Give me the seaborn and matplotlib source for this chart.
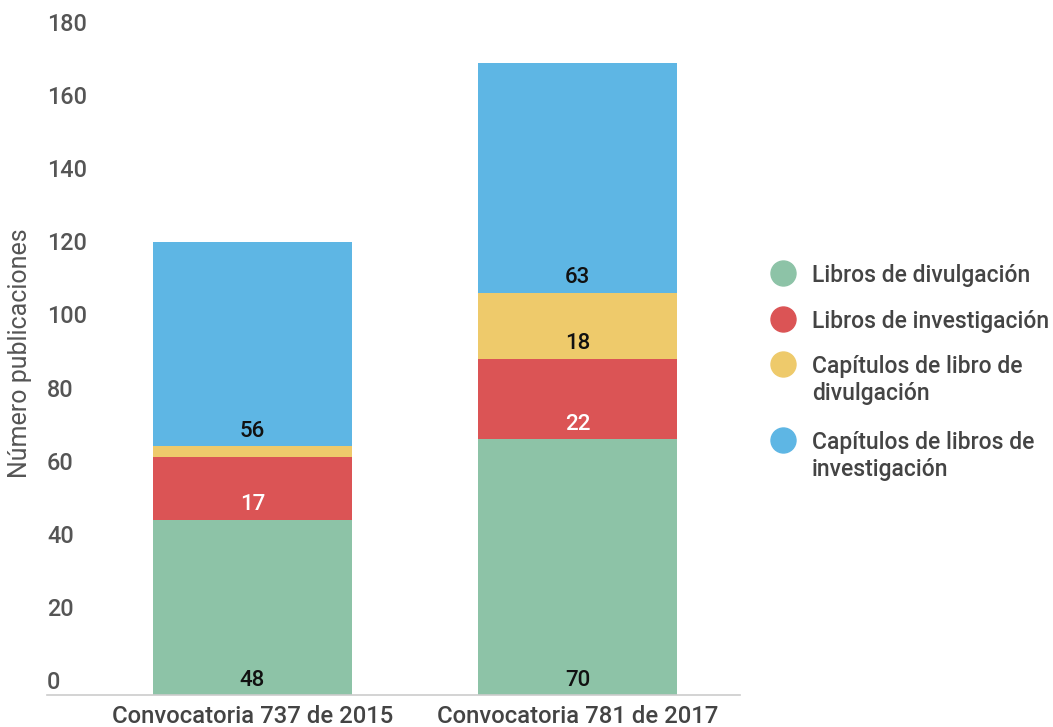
import matplotlib
matplotlib.use("Agg")
import matplotlib.pyplot as plt
import matplotlib.transforms as mtransforms
from matplotlib.lines import Line2D
import numpy as np
import pandas as pd
import seaborn as sns

# Datos
convocatorias = ["Convocatoria 737 de 2015", "Convocatoria 781 de 2017"]
series = ["Libros de divulgación", "Libros de investigación",
          "Capítulos de libro de\ndivulgación", "Capítulos de libros de\ninvestigación"]
libros_divulgacion = [48, 70]
libros_investigacion = [17, 22]
capitulos_divulgacion = [3, 18]
capitulos_investigacion = [56, 63]
colores = ["#8DC3A7", "#DB5455", "#EECA6B", "#5EB6E4"]
color_etiqueta = ["#111111", "#FFFFFF", "#111111", "#111111"]
yticks = [0, 20, 40, 60, 80, 100, 120, 140, 160, 180]

sns.set_style("white")
plt.rcParams['font.family'] = ['Roboto', 'DejaVu Sans']

W, H = 1053, 727
fig = plt.figure(figsize=(W / 100, H / 100), dpi=100)
ax = fig.add_axes([47 / W, 32 / H, 693 / W, 658 / H])

valores = [libros_divulgacion, libros_investigacion, capitulos_divulgacion, capitulos_investigacion]
base = np.zeros(len(convocatorias))
for i, serie in enumerate(series):
    df = pd.DataFrame({'Convocatoria': convocatorias, 'Valor': valores[i]})
    sns.barplot(data=df, x='Convocatoria', y='Valor', color=colores[i], saturation=1,
                width=0.612, bottom=base.copy(), ax=ax, errorbar=None, linewidth=0)
    # Etiquetas en la base de cada segmento
    for j, v in enumerate(valores[i]):
        if v >= 5:
            ax.annotate(str(v), xy=(j, base[j]), xytext=(0, 15), textcoords='offset pixels',
                        ha='center', va='center', fontsize=16, fontweight='medium',
                        color=color_etiqueta[i])
    base = base + np.array(valores[i])

ax.set_xlim(-0.632, 1.5)
ax.set_ylim(0, 180)
ax.set_yticks(yticks)
ax.set_yticklabels([str(t) for t in yticks])
ax.tick_params(axis='y', length=0, pad=0, labelsize=16.8, labelcolor='#555555')
ax.tick_params(axis='x', length=0, pad=7, labelsize=17.2, labelcolor='#444444')
desplazamiento = mtransforms.ScaledTranslation(0, 15 / 100, fig.dpi_scale_trans)
for lab in ax.get_yticklabels():
    lab.set_ha('left')
    lab.set_fontweight('medium')
    lab.set_transform(lab.get_transform() + desplazamiento)
for lab in ax.get_xticklabels():
    lab.set_fontweight('medium')

ax.set_xlabel('')
ax.set_ylabel('Número publicaciones', fontsize=18, color='#555555')
ax.yaxis.set_label_coords(-0.021, 0.52)

for s in ['top', 'right', 'left']:
    ax.spines[s].set_visible(False)
ax.spines['bottom'].set_color('#CCCCCC')
ax.spines['bottom'].set_linewidth(1.2)

# Leyenda manual: el círculo se alinea con la primera línea del texto
ley_y = [273, 319, 364, 440]
for c, lab, y in zip(colores, series, ley_y):
    fig.add_artist(Line2D([783 / W], [1 - y / H], marker='o', linestyle='', markersize=18,
                          markerfacecolor=c, markeredgecolor=c, transform=fig.transFigure))
    for k, linea in enumerate(lab.split('\n')):
        fig.text(812 / W, 1 - (y + 9 + 27 * k) / H, linea, ha='left', va='baseline',
                 fontsize=16.5, fontweight='medium', color='#444444')

fig.savefig('out.png', dpi=100)
